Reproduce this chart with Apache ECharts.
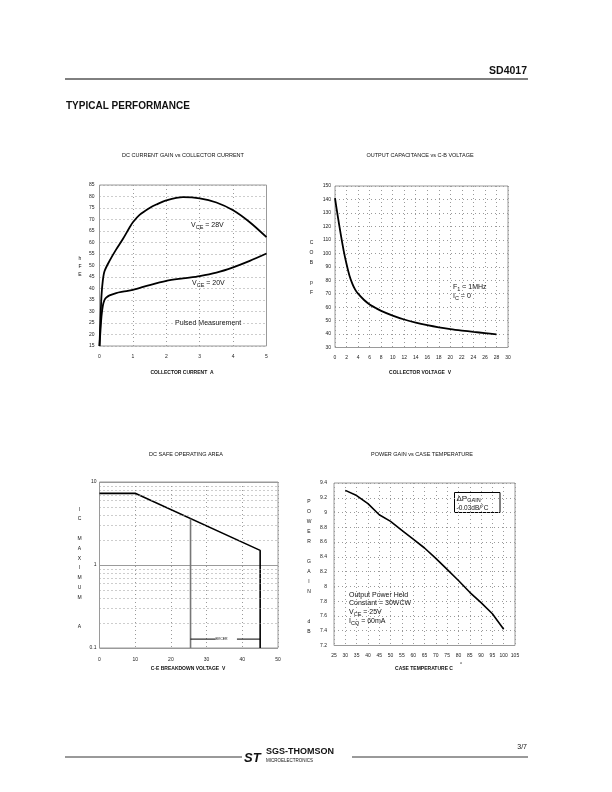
<!DOCTYPE html>
<html>
<head>
<meta charset="utf-8">
<script src="https://cdn.jsdelivr.net/npm/echarts@6/dist/echarts.min.js"></script>
<style>
  html, body { margin: 0; padding: 0; background: #fff; }
  #page { width: 612px; height: 792px; }
</style>
</head>
<body>
<div id="page"></div>
<script>
// DC current gain vs collector current
var gainCurrentHigh = [0, 0.03, 0.06, 0.1, 0.15, 0.3, 0.5, 0.7, 0.9, 1.0, 1.2, 1.5, 1.7, 2.0, 2.5, 3.0, 3.5, 4.0, 4.5, 5.0];
var gainHigh = [15, 27, 37, 43.5, 47.5, 52, 57, 61.5, 66.5, 68.8, 72, 75, 76.5, 78.3, 79.7, 79.2, 77.4, 74, 68.8, 62.3];
var gainCurrentLow = [0, 0.03, 0.06, 0.1, 0.15, 0.2, 0.3, 0.5, 0.7, 1.0, 1.5, 2.0, 2.5, 3.0, 3.5, 4.0, 4.5, 5.0];
var gainLow = [15, 22, 28, 32.5, 35, 36, 37, 38, 38.6, 39.4, 41.5, 43.3, 44.4, 45.4, 46.9, 49.2, 52, 55.2];

// output capacitance vs C-B voltage
var capVoltage = [0, 0.5, 1, 1.5, 2, 2.5, 3, 3.5, 4, 5, 6, 7, 8, 10, 12, 14, 16, 18, 20, 22, 24, 26, 28];
var capValue = [141, 127, 114, 102, 92, 83.5, 77.5, 73, 70, 65.5, 62, 59.5, 57.2, 53.7, 50.8, 48.5, 46.6, 45, 43.7, 42.6, 41.6, 40.7, 39.8];

// DC safe operating area
var soaVoltage = [0, 10, 45, 45];
var soaCurrent = [7.3, 7.3, 1.5, 0.1];
var bvVoltage = [25.5, 25.5];
var bvCurrent = [3.62, 0.1];
var bracketLeft = [25.5, 32.5];
var bracketRight = [38.5, 45];
var bracketLevel = 0.128;
var soaMinorLines = [0.2, 0.3, 0.4, 0.5, 0.6, 0.7, 0.8, 0.9, 2, 3, 4, 5, 6, 7, 8, 9];

// power gain vs case temperature
var caseTemp = [30, 35, 40, 45, 50, 55, 60, 65, 70, 75, 80, 85, 90, 95, 100];
var powerGain = [9.3, 9.23, 9.12, 8.97, 8.88, 8.76, 8.64, 8.52, 8.38, 8.23, 8.08, 7.92, 7.78, 7.63, 7.42];

function pairs(xs, ys) {
    return xs.map(function (x, i) { return [x, Array.isArray(ys) ? ys[i] : ys]; });
}

var FONT = 'Liberation Sans, Arial, sans-serif';
var gridColor = '#9a9a9a';

function valueAxis(gridIndex, min, max, interval, margin) {
    return {
        type: 'value', gridIndex: gridIndex, min: min, max: max, interval: interval,
        axisLine: { show: false },
        axisTick: { show: false },
        axisLabel: { fontSize: 5, color: '#222', fontFamily: FONT, margin: margin },
        splitLine: { show: true, lineStyle: { color: gridColor, width: 1, type: [1, 3] } }
    };
}

function txt(x, y, text, size, opts) {
    opts = opts || {};
    return {
        type: 'text', x: x, y: y, silent: true,
        style: {
            text: text,
            fill: '#111',
            font: (opts.weight || 'normal') + ' ' + size + 'px ' + FONT,
            textAlign: opts.align || 'left',
            align: opts.align || 'left',
            textVerticalAlign: 'middle',
            verticalAlign: 'middle',
            lineHeight: opts.lineHeight,
            rich: opts.rich
        }
    };
}

var subRich = {
    n: { fontSize: 7, fontFamily: FONT, fill: '#111' },
    s: { fontSize: 5.5, fontFamily: FONT, fill: '#111', padding: [4, 0, 0, 0] }
};

var chart = echarts.init(document.getElementById('page'));
var option = {
    backgroundColor: '#fff',
    animation: false,
    grid: [
        { left: 99.5, top: 185, width: 167, height: 161, show: true, borderColor: gridColor, borderWidth: 1 },
        { left: 335, top: 186, width: 173, height: 161.5, show: true, borderColor: gridColor, borderWidth: 1 },
        { left: 99.5, top: 482, width: 178.5, height: 166, show: true, borderColor: gridColor, borderWidth: 1 },
        { left: 334, top: 483, width: 181, height: 162.5, show: true, borderColor: gridColor, borderWidth: 1 }
    ],
    xAxis: [
        valueAxis(0, 0, 5, 1, 8),
        valueAxis(1, 0, 30, 2, 8),
        valueAxis(2, 0, 50, 10, 9),
        valueAxis(3, 25, 105, 5, 8)
    ],
    yAxis: [
        valueAxis(0, 15, 85, 5, 5),
        valueAxis(1, 30, 150, 10, 4),
        {
            type: 'log', gridIndex: 2, logBase: 10, min: 0.1, max: 10,
            axisLine: { show: false },
            axisTick: { show: false },
            axisLabel: { fontSize: 5, color: '#222', fontFamily: FONT, margin: 3 },
            splitLine: { show: true, lineStyle: { color: gridColor, width: 1 } }
        },
        valueAxis(3, 7.2, 9.4, 0.2, 7)
    ],
    series: [
        {
            type: 'line', xAxisIndex: 0, yAxisIndex: 0, data: pairs(gainCurrentHigh, gainHigh),
            smooth: 0.3, showSymbol: false, lineStyle: { color: '#000', width: 1.8 }
        },
        {
            type: 'line', xAxisIndex: 0, yAxisIndex: 0, data: pairs(gainCurrentLow, gainLow),
            smooth: 0.3, showSymbol: false, lineStyle: { color: '#000', width: 1.8 }
        },
        {
            type: 'line', xAxisIndex: 1, yAxisIndex: 1, data: pairs(capVoltage, capValue),
            smooth: 0.3, showSymbol: false, lineStyle: { color: '#000', width: 1.8 }
        },
        {
            type: 'line', xAxisIndex: 2, yAxisIndex: 2, data: pairs(soaVoltage, soaCurrent),
            showSymbol: false, lineStyle: { color: '#000', width: 1.6 }
        },
        {
            type: 'line', xAxisIndex: 2, yAxisIndex: 2, data: pairs(bvVoltage, bvCurrent),
            showSymbol: false, lineStyle: { color: '#777', width: 1.6 },
            markLine: {
                silent: true, symbol: 'none', label: { show: false },
                lineStyle: { color: gridColor, width: 1, type: [1, 3] },
                data: soaMinorLines.map(function (v) { return { yAxis: v }; })
            }
        },
        {
            type: 'line', xAxisIndex: 2, yAxisIndex: 2, data: pairs(bracketLeft, bracketLevel),
            showSymbol: false, lineStyle: { color: '#000', width: 1 }
        },
        {
            type: 'line', xAxisIndex: 2, yAxisIndex: 2, data: pairs(bracketRight, bracketLevel),
            showSymbol: false, lineStyle: { color: '#000', width: 1 }
        },
        {
            type: 'line', xAxisIndex: 3, yAxisIndex: 3, data: pairs(caseTemp, powerGain),
            showSymbol: false, lineStyle: { color: '#000', width: 1.6 }
        }
    ],
    graphic: [
        // page header
        txt(527, 71, 'SD4017', 10.5, { weight: 'bold', align: 'right' }),
        { type: 'line', silent: true, shape: { x1: 65, y1: 79, x2: 528, y2: 79 }, style: { stroke: '#000', lineWidth: 1 } },
        txt(66, 106, 'TYPICAL PERFORMANCE', 10, { weight: 'bold' }),

        // chart titles
        txt(183, 155, 'DC CURRENT GAIN vs COLLECTOR CURRENT', 5.5, { align: 'center' }),
        txt(420, 155, 'OUTPUT CAPACITANCE vs C-B VOLTAGE', 5.5, { align: 'center' }),
        txt(186, 454, 'DC SAFE OPERATING AREA', 5.5, { align: 'center' }),
        txt(422, 454, 'POWER GAIN vs CASE TEMPERATURE', 5.5, { align: 'center' }),

        // axis titles
        txt(182, 372.5, 'COLLECTOR CURRENT  A', 5, { weight: 'bold', align: 'center' }),
        txt(420, 372.5, 'COLLECTOR VOLTAGE  V', 5, { weight: 'bold', align: 'center' }),
        txt(188, 669, 'C-E BREAKDOWN VOLTAGE  V', 5, { weight: 'bold', align: 'center' }),
        txt(424, 669, 'CASE TEMPERATURE C', 5, { weight: 'bold', align: 'center' }),
        txt(461, 665, '\u00b0', 5, { weight: 'bold', align: 'center' }),

        // vertical letter labels
        txt(80, 266.7, 'h\nF\nE', 5, { align: 'center', lineHeight: 8.4 }),
        txt(311.5, 268, 'C\nO\nB\n\np\nF', 5, { align: 'center', lineHeight: 10 }),
        txt(79.5, 568, 'I\nC\n\nM\nA\nX\nI\nM\nU\nM\n\n\nA', 5, { align: 'center', lineHeight: 9.8 }),
        txt(309, 566.7, 'P\nO\nW\nE\nR\n\nG\nA\nI\nN\n\n\nd\nB', 5, { align: 'center', lineHeight: 10 }),

        // chart 1 notes
        txt(191, 225, '{n|V}{s|CE}{n| = 28V}', 7, { rich: subRich }),
        txt(192, 283, '{n|V}{s|CE}{n| = 20V}', 7, { rich: subRich }),
        txt(175, 323, 'Pulsed Measurement', 7),

        // chart 2 notes
        txt(453, 287, '{n|F}{s|1}{n| = 1MHz}', 7, { rich: subRich }),
        txt(453, 296, '{n|I}{s|C}{n| = 0}', 7, { rich: subRich }),

        // chart 3 note
        txt(221.5, 639.3, 'BVCER', 3.5, { align: 'center' }),

        // chart 4 notes
        { type: 'rect', silent: true, shape: { x: 454.5, y: 492.5, width: 45.5, height: 20 }, style: { fill: '#fff', stroke: '#000', lineWidth: 1 } },
        txt(456.5, 498.5, '{b|\u0394P}{s|GAIN}', 7, { rich: { b: { fontSize: 8, fontFamily: FONT, fill: '#111' }, s: { fontSize: 5.5, fontFamily: FONT, fill: '#111', padding: [3, 0, 0, 0] } } }),
        txt(456.5, 508, '-0.03dB/\u00b0C', 6.5),
        txt(349, 595, 'Output Power Held', 7),
        txt(349, 603.5, 'Constant = 30WCW', 7),
        txt(349, 612.5, '{n|V}{s|CE}{n| = 25V}', 7, { rich: subRich }),
        txt(349, 621.5, '{n|I}{s|CQ}{n| = 60mA}', 7, { rich: subRich }),

        // footer
        { type: 'line', silent: true, shape: { x1: 65, y1: 757, x2: 242, y2: 757 }, style: { stroke: '#000', lineWidth: 0.8 } },
        { type: 'line', silent: true, shape: { x1: 352, y1: 757, x2: 528, y2: 757 }, style: { stroke: '#000', lineWidth: 0.8 } },
        txt(244, 758, 'ST', 13, { weight: 'bold italic' }),
        txt(266, 752, 'SGS-THOMSON', 9, { weight: 'bold' }),
        txt(266, 761, 'MICROELECTRONICS', 4.5),
        txt(527, 747, '3/7', 7, { align: 'right' })
    ]
};
chart.setOption(option);
</script>
</body>
</html>
